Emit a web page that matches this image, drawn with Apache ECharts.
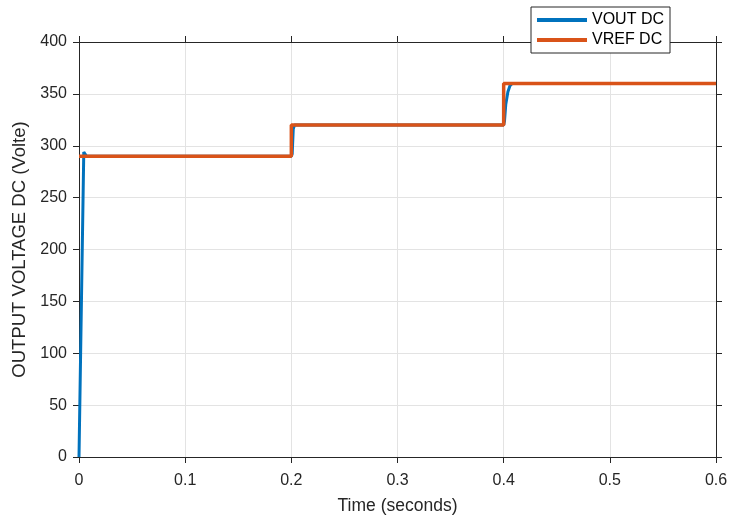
<!DOCTYPE html>
<html>
<head>
<meta charset="utf-8">
<script src="https://cdn.jsdelivr.net/npm/echarts@6/dist/echarts.min.js"></script>
<style>
  html, body { margin: 0; padding: 0; background: #fff; }
  #chart { width: 731px; height: 520px; }
</style>
</head>
<body>
<div id="chart"></div>
<script>
// time (s) and voltage (V)
const voutTime = [0, 0.0045, 0.007, 0.2, 0.2008, 0.2018, 0.203, 0.4, 0.4008, 0.402, 0.404, 0.406, 0.408, 0.6];
const voutVals = [0, 294, 290, 290, 292, 316, 320, 320, 324, 340, 352, 358, 360, 360];
const vrefTime = [0, 0.2, 0.2, 0.4, 0.4, 0.6];
const vrefVals = [290, 290, 320, 320, 360, 360];
const seriesNames = ["VOUT DC", "VREF DC"];

const xTicks = { min: 0, max: 0.6, interval: 0.1 };
const yTicks = { min: 0, max: 400, interval: 50 };

const pair = (xs, ys) => xs.map((x, i) => [x, ys[i]]);

const dark = "#262626";
const font = "'Liberation Sans', Arial, Helvetica, sans-serif";

function axis(extra, ticks) {
  return Object.assign({
    type: "value",
    min: ticks.min,
    max: ticks.max,
    interval: ticks.interval,
    axisLine: { show: true, onZero: false, lineStyle: { color: dark, width: 1 } },
    axisTick: { show: true, inside: false, length: 6, lineStyle: { color: dark } },
    axisLabel: { color: dark, fontSize: 16, fontFamily: font },
    splitLine: { show: false }
  }, extra);
}

const chart = echarts.init(document.getElementById("chart"), null, { renderer: "canvas" });

chart.setOption({
  backgroundColor: "#fff",
  animation: false,
  grid: { left: 79, right: 15, top: 42, bottom: 63, containLabel: false },
  legend: {
    data: seriesNames,
    orient: "vertical",
    left: 531,
    top: 7,
    backgroundColor: "#fff",
    borderColor: dark,
    borderWidth: 1,
    padding: [5, 6, 5, 6],
    itemGap: 4,
    itemWidth: 50,
    itemHeight: 4,
    icon: "rect",
    textStyle: { color: "#000", fontSize: 16, fontFamily: font, padding: [0, 0, 0, 0] },
    z: 10
  },
  xAxis: [
    axis({
      position: "bottom",
      name: "Time (seconds)",
      nameLocation: "middle",
      nameGap: 40,
      nameTextStyle: { color: dark, fontSize: 17.5, fontFamily: font },
      axisLabel: { color: dark, fontSize: 16, fontFamily: font, margin: 16 },
      splitLine: { show: true, lineStyle: { color: "#e3e3e3", width: 1 } }
    }, xTicks),
    axis({ position: "top", axisLabel: { show: false } }, xTicks)
  ],
  yAxis: [
    axis({
      position: "left",
      name: "OUTPUT VOLTAGE DC (Volte)",
      nameLocation: "middle",
      nameGap: 43,
      nameTextStyle: { color: dark, fontSize: 18.5, fontFamily: font },
      axisLabel: { color: dark, fontSize: 16, fontFamily: font, margin: 12 },
      splitLine: { show: true, lineStyle: { color: "#e3e3e3", width: 1 } }
    }, yTicks),
    axis({ position: "right", axisLabel: { show: false } }, yTicks)
  ],
  series: [
    {
      name: seriesNames[0],
      type: "line",
      data: pair(voutTime, voutVals),
      showSymbol: false,
      symbol: "none",
      color: "#0072BD",
      lineStyle: { width: 3, color: "#0072BD" },
      z: 2
    },
    {
      name: seriesNames[1],
      type: "line",
      data: pair(vrefTime, vrefVals),
      showSymbol: false,
      symbol: "none",
      color: "#D95319",
      lineStyle: { width: 3.5, color: "#D95319" },
      z: 3
    }
  ]
});
</script>
</body>
</html>
